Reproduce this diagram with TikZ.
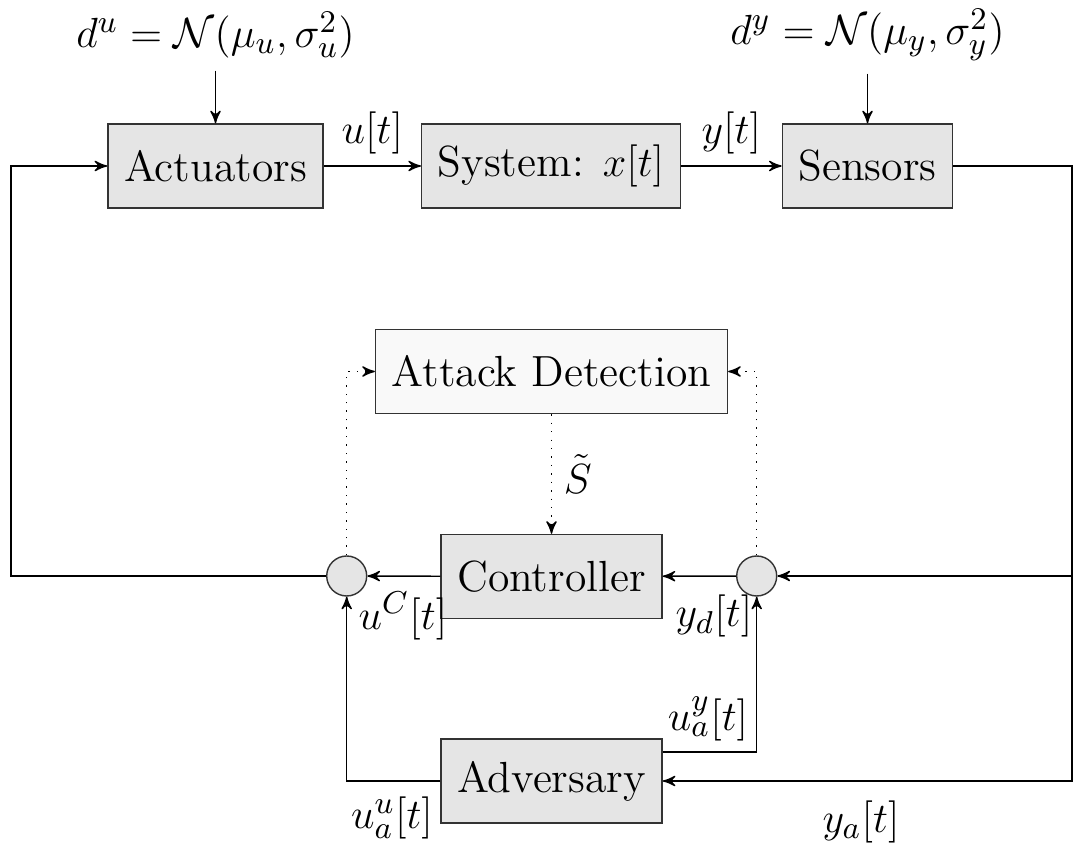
\documentclass[tikz,border=0pt]{standalone}
\usepackage{amsmath}
\usepackage{amssymb}
\usepackage{tikz}
\usetikzlibrary{arrows}
\newcommand{\distr}{\mathcal{N}}

\begin{document}
\begin{tikzpicture}[>=stealth',
font=\fontsize{12.4}{15}\selectfont,
block/.style={draw=black!80, fill=gray!20, inner xsep=4.6pt, minimum height=0.84cm},
lightblock/.style={draw=black!80, fill=gray!5, inner xsep=4.6pt, minimum height=0.84cm},
junction/.style={draw=black!80, fill=gray!20, circle, inner sep=0pt, minimum size=0.4cm},
monitor/.style={->, dotted}]
\useasboundingbox (0,0) rectangle (10.77,8.43);

%plant row
\node[block](act) at (2.155,6.77) {Actuators};
\node[block](sys) at (5.51,6.77) {System: $x[t]$};
\node[block](sen) at (8.675,6.77) {Sensors};
\node(du) at (2.155,8.08) {$d^u=\distr(\mu_u,\sigma_u^2)$};
\node(dy) at (8.675,8.08) {$d^y=\distr(\mu_y,\sigma_y^2)$};

%detection, control and attack
\node[lightblock](det) at (5.515,4.715) {Attack Detection};
\node[block](ctrl) at (5.515,2.665) {Controller};
\node[junction](sumu) at (3.467,2.67) {};
\node[junction](sumy) at (7.567,2.67) {};
\node[block](adv) at (5.515,0.62) {Adversary};

%corners of the outer loop
\coordinate(fbl) at (0.11,6.77);
\coordinate(fbr) at (10.72,6.77);

%forward path
\draw[->] (du) -- (act);
\draw[->] (dy) -- (sen);
\draw[->] (act) -- node[above] {$u[t]$} (sys);
\draw[->] (sys) -- node[above] {$y[t]$} (sen);

%measurements back to the controller and the adversary
\draw[->] (sen) -- (fbr) |- (adv.east);
\draw[->] (fbr |- sumy) -- (sumy);
\draw[->] (sumy) -- (ctrl);
\draw[->] (ctrl) -- (sumu);
\draw[->] (sumu) -| (fbl) -- (act);

%attack inputs
\draw[->] (adv) -| (sumu);
\draw[->] ([yshift=0.29cm]adv.east) -| (sumy);

%detector
\draw[monitor] (sumu.north) |- (det.west);
\draw[monitor] (sumy.north) |- (det.east);
\draw[monitor] (det) -- node[right] {$\tilde{S}$} (ctrl);

%signal names
\node(uc) at (4.03,2.27) {$u^C[t]$};
\node(yd) at (7.14,2.27) {$y_d[t]$};
\node(uay) at (7.08,1.24) {$u_a^y[t]$};
\node(uau) at (3.92,0.25) {$u_a^u[t]$};
\node(ya) at (8.61,0.21) {$y_a[t]$};
\end{tikzpicture}
\end{document}
